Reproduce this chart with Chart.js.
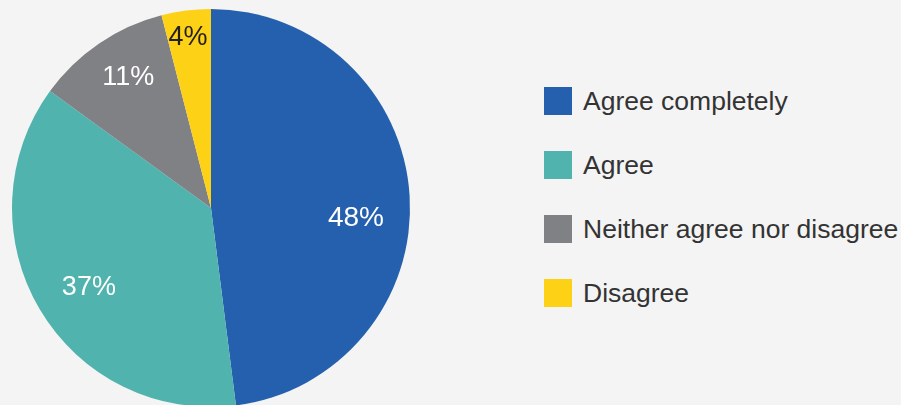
<!DOCTYPE html>
<html>
<head>
<meta charset="utf-8">
<script src="https://cdn.jsdelivr.net/npm/chart.js@4.4.1/dist/chart.umd.min.js"></script>
<style>
  html, body { margin: 0; padding: 0; background: #f4f4f4; width: 901px; height: 405px; overflow: hidden; }
  #wrap { position: absolute; left: 0; top: 0; width: 422px; height: 418px; }
  #legend { position: absolute; left: 544px; top: 87px; margin: 0; padding: 0; list-style: none;
            font-family: "Liberation Sans", Arial, sans-serif; font-size: 26.5px; color: #333333; }
  #legend li { display: flex; align-items: center; height: 28px; margin-bottom: 36px; white-space: nowrap; }
  #legend .sw { width: 28px; height: 28px; margin-right: 11px; flex: none; }
</style>
</head>
<body>
<div id="wrap"><canvas id="c"></canvas></div>
<ul id="legend"></ul>
<script>
const categories = ["Agree completely", "Agree", "Neither agree nor disagree", "Disagree"];
const shares = [48, 37, 11, 4];
const valueLabels = ["48%", "37%", "11%", "4%"];

const colors = ["#2460ad", "#50b3ad", "#808184", "#fdd116"];
const labelColors = ["#ffffff", "#ffffff", "#ffffff", "#231f20"];
const labelFontPx = [28, 27, 27, 27];
const labelRadiusFrac = [0.73, 0.73, 0.78, 0.87];
const labelAngleShift = [7.3, -2.2, 2.0, -0.4]; // degrees

const pieLabels = {
  id: "pieLabels",
  afterDatasetsDraw(chart) {
    const ctx = chart.ctx;
    const meta = chart.getDatasetMeta(0);
    ctx.save();
    ctx.textAlign = "center";
    ctx.textBaseline = "middle";
    meta.data.forEach((arc, i) => {
      const p = arc.getProps(["x", "y", "startAngle", "endAngle", "outerRadius"], true);
      const mid = (p.startAngle + p.endAngle) / 2 + labelAngleShift[i] * Math.PI / 180;
      const r = p.outerRadius * labelRadiusFrac[i];
      ctx.fillStyle = labelColors[i];
      ctx.font = labelFontPx[i] + "px 'Liberation Sans', Arial, sans-serif";
      ctx.fillText(valueLabels[i], p.x + Math.cos(mid) * r, p.y + Math.sin(mid) * r + 1);
    });
    ctx.restore();
  }
};

new Chart(document.getElementById("c"), {
  type: "pie",
  data: {
    labels: categories,
    datasets: [{ data: shares, backgroundColor: colors, borderWidth: 0, hoverOffset: 0 }]
  },
  options: {
    responsive: true,
    maintainAspectRatio: false,
    animation: false,
    layout: { padding: { top: 9, bottom: 11, left: 12, right: 12 } },
    plugins: { legend: { display: false }, tooltip: { enabled: false } },
    events: []
  },
  plugins: [pieLabels]
});

const legend = document.getElementById("legend");
categories.forEach((name, i) => {
  const li = document.createElement("li");
  const sw = document.createElement("span");
  sw.className = "sw";
  sw.style.background = colors[i];
  const tx = document.createElement("span");
  tx.textContent = name;
  li.appendChild(sw);
  li.appendChild(tx);
  legend.appendChild(li);
});
</script>
</body>
</html>
